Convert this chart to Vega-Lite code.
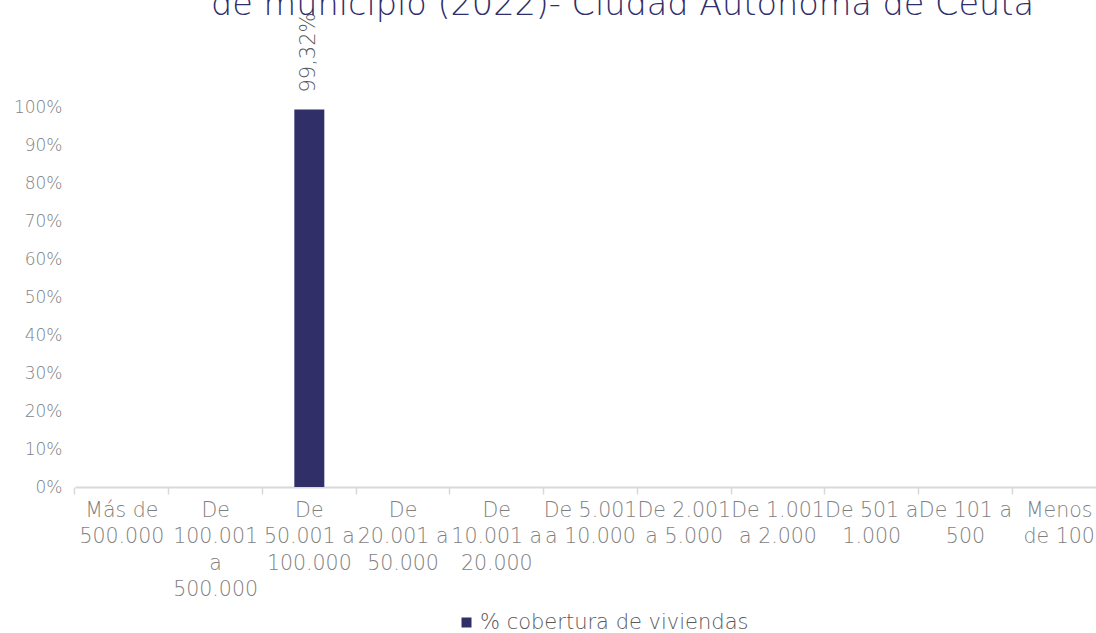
{
  "$schema": "https://vega.github.io/schema/vega-lite/v6.json",
  "width": 1021,
  "height": 380,
  "autosize": {"type": "none"},
  "padding": {"left": 75, "top": 107, "right": 0, "bottom": 146},
  "background": "white",
  "config": {
    "locale": {"number": {"decimal": ",", "thousands": ".", "grouping": [3], "currency": ["", " €"]}},
    "view": {"stroke": null},
    "font": "DejaVu Sans"
  },
  "title": {
    "text": "de municipio (2022)- Ciudad Autónoma de Ceuta",
    "fontSize": 33.5,
    "fontWeight": 300,
    "color": "#2f2e6b",
    "anchor": "middle",
    "frame": "group",
    "dx": 37,
    "offset": -36,
    "baseline": "alphabetic"
  },
  "data": {
    "values": [
      {"tamano": "Más de\n500.000", "cobertura": null},
      {"tamano": "De\n100.001\na\n500.000", "cobertura": null},
      {"tamano": "De\n50.001 a\n100.000", "cobertura": 0.9932},
      {"tamano": "De\n20.001 a\n50.000", "cobertura": null},
      {"tamano": "De\n10.001 a\n20.000", "cobertura": null},
      {"tamano": "De 5.001\na 10.000", "cobertura": null},
      {"tamano": "De 2.001\na 5.000", "cobertura": null},
      {"tamano": "De 1.001\na 2.000", "cobertura": null},
      {"tamano": "De 501 a\n1.000", "cobertura": null},
      {"tamano": "De 101 a\n500", "cobertura": null},
      {"tamano": "Menos\nde 100", "cobertura": null}
    ]
  },
  "encoding": {
    "x": {
      "field": "tamano",
      "type": "nominal",
      "sort": null,
      "scale": {
        "domain": ["Más de\n500.000", "De\n100.001\na\n500.000", "De\n50.001 a\n100.000", "De\n20.001 a\n50.000", "De\n10.001 a\n20.000", "De 5.001\na 10.000", "De 2.001\na 5.000", "De 1.001\na 2.000", "De 501 a\n1.000", "De 101 a\n500", "Menos\nde 100"],
        "range": [0, 1031],
        "paddingInner": 0.68,
        "paddingOuter": 0.34
      },
      "axis": {
        "title": null,
        "labelExpr": "split(datum.value, '\\n')",
        "labelAngle": 0,
        "labelAlign": "center",
        "labelBaseline": "top",
        "labelFontSize": 20.5,
        "labelFontWeight": 300,
        "labelColor": "#7f7f7f",
        "labelLineHeight": 26.5,
        "labelPadding": 6,
        "labelOverlap": false,
        "labelLimit": 300,
        "labelBound": false,
        "bandPosition": -1.0625,
        "tickSize": 7,
        "tickColor": "#d9d9d9",
        "tickWidth": 1.5,
        "domainColor": "#d9d9d9",
        "domainWidth": 2,
        "grid": false
      }
    },
    "y": {
      "field": "cobertura",
      "type": "quantitative",
      "scale": {"domain": [0, 1]},
      "axis": {
        "title": null,
        "format": ".0%",
        "values": [0, 0.1, 0.2, 0.3, 0.4, 0.5, 0.6, 0.7, 0.8, 0.9, 1],
        "domain": false,
        "ticks": false,
        "grid": false,
        "labelOverlap": false,
        "labelFontSize": 17,
        "labelFontWeight": 300,
        "labelColor": "#7f7f7f",
        "labelPadding": 13
      }
    }
  },
  "layer": [
    {
      "mark": {"type": "bar", "color": "#302f68"},
      "encoding": {
        "color": {
          "datum": "% cobertura de viviendas",
          "scale": {"range": ["#302f68"]},
          "legend": {
            "title": null,
            "orient": "none",
            "legendX": 381,
            "legendY": 505,
            "symbolType": "square",
            "symbolSize": 100,
            "symbolStrokeWidth": 0,
            "labelFontSize": 21,
            "labelFontWeight": 300,
            "labelColor": "#595959",
            "labelOffset": 3,
            "labelLimit": 400,
            "padding": 0
          }
        }
      }
    },
    {
      "mark": {"type": "text", "angle": 270, "align": "left", "baseline": "middle", "dx": 17, "fontSize": 21, "fontWeight": 300, "color": "#595959"},
      "transform": [{"filter": "datum.cobertura != null"}],
      "encoding": {
        "text": {"field": "cobertura", "type": "quantitative", "format": ".2%"}
      }
    }
  ]
}
